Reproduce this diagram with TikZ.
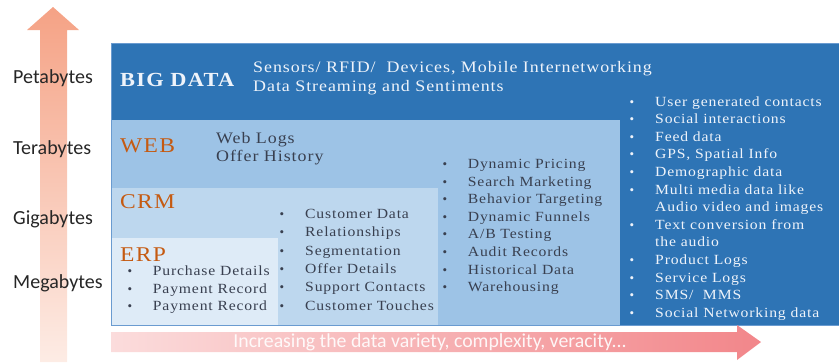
\documentclass[tikz,border=0pt]{standalone}
\usepackage{fontspec}
\setmainfont{Liberation Serif}
\newfontfamily\wideserif{Liberation Serif}[LetterSpace = 6, FakeStretch = 1.12]
\newfontfamily\sizelabelfont{Carlito}

\definecolor{bigblue}{HTML}{2E74B5}
\definecolor{webblue}{HTML}{9DC3E6}
\definecolor{crmblue}{HTML}{BDD7EE}
\definecolor{erpblue}{HTML}{DEEBF7}
\definecolor{edgeblue}{HTML}{6A9BD0}
\definecolor{layerorange}{HTML}{C55A11}
\definecolor{darktext}{HTML}{394050}
\definecolor{lighttext}{HTML}{EEF3FA}
\definecolor{uptop}{HTML}{F5A285}
\definecolor{upbottom}{HTML}{FDECE5}
\definecolor{rightleft}{HTML}{FBDCDC}
\definecolor{rightright}{HTML}{F2868A}

\tikzset{
	scalelabel/.style = {anchor = base west, inner sep = 0pt, font = \sizelabelfont\fontsize{20}{24}\selectfont, text = black!85},
	layername/.style = {anchor = base west, inner sep = 0pt, font = \wideserif\fontsize{21}{24}\selectfont, text = layerorange},
	header/.style = {anchor = base west, inner sep = 0pt, font = \wideserif\fontsize{16}{19}\selectfont},
	listitem/.style = {anchor = base west, inner sep = 0pt, font = \wideserif\fontsize{14}{17}\selectfont},
	listdot/.style = {anchor = base, inner sep = 0pt, font = \rmfamily\fontsize{13}{15}\selectfont}
}

\begin{document}
\begin{tikzpicture}[x = 1pt, y = -1pt]
	\useasboundingbox (0, 0) rectangle (839, 362);
	
	\shade[top color = uptop, bottom color = upbottom]
	(40, 362) -- (40, 30) -- (27, 30) -- (53, 7) -- (79, 30) -- (67, 30) -- (67, 362) -- cycle;
	
	\fill[bigblue] (111, 43) rectangle (839, 325);
	\fill[webblue] (111, 120) rectangle (620, 325);
	\fill[crmblue] (111, 188) rectangle (438, 325);
	\fill[erpblue] (111, 238) rectangle (278, 325);
	\draw[edgeblue, line width = 0.8pt] (111, 43) rectangle (839, 325);
	
	\shade[left color = rightleft, right color = rightright]
	(111, 332) -- (737, 332) -- (737, 325) -- (761, 342) -- (737, 360) -- (737, 352) -- (111, 352) -- cycle;
	\node[anchor = center, inner sep = 0pt, text = white, text opacity = 0.9, font = \sizelabelfont\fontsize{19.8}{22}\selectfont] (variety) at (430, 342) {Increasing the data variety, complexity, veracity...};
	
	\node[scalelabel] (peta) at (13, 83.3) {Petabytes};
	\node[scalelabel] (tera) at (13, 154) {Terabytes};
	\node[scalelabel] (giga) at (13, 224) {Gigabytes};
	\node[scalelabel] (mega) at (13, 288.3) {Megabytes};
	
	\node[anchor = base west, inner sep = 0pt, text = lighttext, font = \wideserif\bfseries\fontsize{20}{24}\selectfont] (bigdata) at (120, 86) {BIG DATA};
	\node[header, text = lighttext] (sensors) at (253, 72.3) {Sensors/ RFID/\ \ Devices, Mobile Internetworking};
	\node[header, text = lighttext] (streaming) at (253, 91.7) {Data Streaming and Sentiments};
	
	\node[layername] (web) at (120, 152.3) {WEB};
	\node[header, text = darktext] (weblogs) at (216, 143.3) {Web Logs};
	\node[header, text = darktext] (offerhist) at (216, 161.7) {Offer History};
	
	\node[layername] (crm) at (120, 208.3) {CRM};
	\node[layername] (erp) at (120, 261) {ERP};
	
	\foreach \txt [count = \i] in {Purchase Details, Payment Record, Payment Record} {
		\node[listdot, text = darktext] (erpdot\i) at (130, 275.5 + 17.5*\i - 17.5) {\textbullet};
		\node[listitem, text = darktext] (erpitem\i) at (152.7, 275.5 + 17.5*\i - 17.5) {\txt};
	}
	
	\foreach \txt [count = \i] in {Customer Data, Relationships, Segmentation, Offer Details, Support Contacts, Customer Touches} {
		\node[listdot, text = darktext] (crmdot\i) at (282, 218.5 + 18.3*\i - 18.3) {\textbullet};
		\node[listitem, text = darktext] (crmitem\i) at (305, 218.5 + 18.3*\i - 18.3) {\txt};
	}
	
	\foreach \txt [count = \i] in {Dynamic Pricing, Search Marketing, Behavior Targeting, Dynamic Funnels, A/B Testing, Audit Records, Historical Data, Warehousing} {
		\node[listdot, text = darktext] (webdot\i) at (445, 168.5 + 17.6*\i - 17.6) {\textbullet};
		\node[listitem, text = darktext] (webitem\i) at (467.7, 168.5 + 17.6*\i - 17.6) {\txt};
	}
	
	\foreach \txt [count = \i] in {User generated contacts, Social interactions, Feed data, {GPS, Spatial Info}, Demographic data, Multi media data like, , Text conversion from, , Product Logs, Service Logs, SMS/\ \ MMS, Social Networking data} {
		\ifx\txt\empty\else
		\node[listdot, text = lighttext] (bigdot\i) at (632, 106 + 17.6*\i - 17.6) {\textbullet};
		\node[listitem, text = lighttext] (bigitem\i) at (655, 106 + 17.6*\i - 17.6) {\txt};
		\fi
	}
	\node[listitem, text = lighttext] (audio) at (655, 106 + 17.6*6) {Audio video and images};
	\node[listitem, text = lighttext] (theaudio) at (655, 106 + 17.6*8) {the audio};
\end{tikzpicture}
\end{document}
